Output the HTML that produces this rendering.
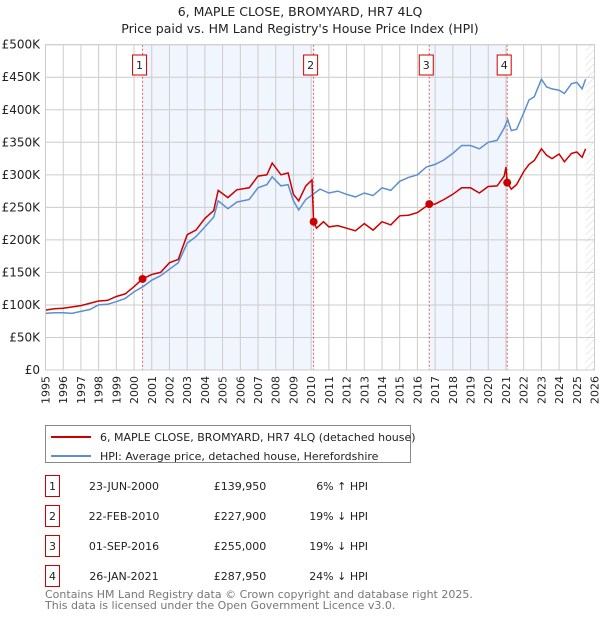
<!DOCTYPE html>
<html><head><meta charset="utf-8"><style>
body{margin:0;background:#fff;font-family:"Liberation Sans","DejaVu Sans",sans-serif;}
svg text{font-family:"DejaVu Sans","Liberation Sans",sans-serif;}
</style></head><body>
<svg id="c" width="600" height="620" xmlns="http://www.w3.org/2000/svg">
<defs>
<pattern id="hatch" width="5" height="5" patternUnits="userSpaceOnUse" patternTransform="rotate(45)">
<line x1="0" y1="0" x2="0" y2="5" stroke="#ccc" stroke-width="0.8"/></pattern>
</defs>
<text x="300" y="16" text-anchor="middle" font-size="12.5" fill="#222">6, MAPLE CLOSE, BROMYARD, HR7 4LQ</text>
<text x="300" y="33" text-anchor="middle" font-size="12.5" fill="#222">Price paid vs. HM Land Registry's House Price Index (HPI)</text>
<g id="plot"></g>
<g>
<rect x="45.5" y="425.5" width="365" height="37" fill="#fff" stroke="#888"/>
<line x1="51" y1="437" x2="91" y2="437" stroke="#cc0000" stroke-width="2"/>
<text x="100" y="441" font-size="11" fill="#222">6, MAPLE CLOSE, BROMYARD, HR7 4LQ (detached house)</text>
<line x1="51" y1="456" x2="91" y2="456" stroke="#5b8fd0" stroke-width="2"/>
<text x="100" y="460" font-size="11" fill="#222">HPI: Average price, detached house, Herefordshire</text>
</g>
<g id="table"></g>
<text x="45" y="598" font-size="11" fill="#777">Contains HM Land Registry data © Crown copyright and database right 2025.</text>
<text x="45" y="609" font-size="11" fill="#777">This data is licensed under the Open Government Licence v3.0.</text>
</svg>
<script>
const yTicks=[0,50000,100000,150000,200000,250000,300000,350000,400000,450000,500000];
const yTickLabels=["£0","£50K","£100K","£150K","£200K","£250K","£300K","£350K","£400K","£450K","£500K"];
const years=[1995,1996,1997,1998,1999,2000,2001,2002,2003,2004,2005,2006,2007,2008,2009,2010,2011,2012,2013,2014,2015,2016,2017,2018,2019,2020,2021,2022,2023,2024,2025,2026];
const hpiT=[1995,1995.5,1996,1996.5,1997,1997.5,1998,1998.5,1999,1999.5,2000,2000.5,2001,2001.5,2002,2002.5,2003,2003.5,2004,2004.5,2004.75,2005.3,2005.8,2006.5,2007,2007.5,2007.8,2008.3,2008.7,2009.0,2009.3,2009.7,2010.1,2010.5,2011,2011.5,2012,2012.5,2013,2013.5,2014,2014.5,2015,2015.5,2016,2016.5,2017,2017.5,2018,2018.5,2019,2019.5,2020,2020.5,2020.9,2021.1,2021.3,2021.6,2022,2022.3,2022.6,2023,2023.3,2023.6,2024,2024.3,2024.7,2025.0,2025.3,2025.5];
const hpiV=[87,88,88,87,90,93,100,101,105,110,120,128,138,145,155,165,195,205,220,235,260,248,258,262,280,285,297,283,285,260,246,262,270,278,272,275,270,266,272,268,280,276,290,296,300,312,316,323,333,345,345,340,350,353,372,385,368,370,395,415,420,447,435,432,430,425,440,442,432,447];
const propT=[1995,1995.5,1996,1997,1998,1998.5,1999,1999.5,2000,2000.48,2001,2001.5,2002,2002.5,2003,2003.5,2004,2004.5,2004.75,2005.3,2005.8,2006.5,2007,2007.5,2007.8,2008.3,2008.7,2009.0,2009.3,2009.7,2010.05,2010.14,2010.3,2010.7,2011,2011.5,2012,2012.5,2013,2013.5,2014,2014.5,2015,2015.5,2016,2016.67,2017,2017.5,2018,2018.5,2019,2019.5,2020,2020.5,2020.9,2021.0,2021.07,2021.3,2021.6,2022,2022.3,2022.6,2023,2023.3,2023.6,2024,2024.3,2024.7,2025.0,2025.3,2025.5];
const propV=[92,94,95,99,106,107,113,117,128,140,147,150,165,170,208,215,233,245,276,265,277,280,298,300,318,300,303,270,260,283,292,228,218,228,220,222,218,214,225,215,228,223,237,238,242,255,255,262,270,280,280,272,282,283,298,312,288,278,285,305,316,322,340,330,325,332,320,333,335,327,340];
const saleT=[2000.48,2010.14,2016.67,2021.07];
const saleV=[139950,227900,255000,287950];
const saleDates=["23-JUN-2000","22-FEB-2010","01-SEP-2016","26-JAN-2021"];
const salePrices=["£139,950","£227,900","£255,000","£287,950"];
const saleHpi=["6% ↑ HPI","19% ↓ HPI","19% ↓ HPI","24% ↓ HPI"];

const X0=45.5,X1=594.5,Y0=370,Y1=44.7;
const xs=t=>X0+(t-1995)/(2026-1995)*(X1-X0);
const ys=v=>Y0-v/500000*(Y0-Y1);
const NS="http://www.w3.org/2000/svg";
const plot=document.getElementById('plot');
function mk(tag,a,parent){const e=document.createElementNS(NS,tag);for(const k in a)e.setAttribute(k,a[k]);(parent||plot).appendChild(e);return e;}
for(const [a,b] of [[0,1],[2,3]]){
 const r=mk('rect',{x:xs(saleT[a]),y:Y1,width:xs(saleT[b])-xs(saleT[a]),height:Y0-Y1,fill:'#eef3fc',opacity:0.8});
 
 
}
const h=mk('rect',{x:xs(2025.5),y:Y1,width:X1-xs(2025.5),height:Y0-Y1,fill:'url(#hatch)'});


years.forEach(y=>{
 const l=mk('line',{x1:xs(y),x2:xs(y),y1:Y1,y2:Y0,stroke:'#ccc','stroke-width':1});
 
 
 const t=mk('text',{x:0,y:0,'font-size':11,fill:'#222','text-anchor':'end',transform:`translate(${xs(y)+4},${Y0+6}) rotate(-90)`});
 t.textContent=y;
 
 
});
yTicks.forEach((v,i)=>{
 const l=mk('line',{x1:X0,x2:X1,y1:ys(v),y2:ys(v),stroke:'#ccc','stroke-width':1});
 
 
 const t=mk('text',{x:40,y:ys(v)+4,'font-size':12,fill:'#222','text-anchor':'end'});
 t.textContent=yTickLabels[i];
 
 
});
saleT.forEach((t,i)=>{
 const l=mk('line',{x1:xs(t),x2:xs(t),y1:Y1,y2:Y0,stroke:'#e06060','stroke-width':1,'stroke-dasharray':'2,2'});
 
 
 const bx=xs(t)-3;
 const b=mk('rect',{x:bx-7,y:55,width:14,height:20,fill:'#fff',stroke:'#cc0000','stroke-width':1});
 
 
 const tx=mk('text',{x:bx,y:69,'font-size':11,'text-anchor':'middle',fill:'#222'});
 tx.textContent=i+1;
 
 
});
const ptsH=hpiT.map((t,i)=>xs(t).toFixed(1)+','+ys(hpiV[i]*1000).toFixed(1)).join(' ');
const pH=mk('polyline',{points:ptsH,fill:'none',stroke:'#5b8fd0','stroke-width':1.5});


const ptsP=propT.map((t,i)=>xs(t).toFixed(1)+','+ys(propV[i]*1000).toFixed(1)).join(' ');
const pP=mk('polyline',{points:ptsP,fill:'none',stroke:'#cc0000','stroke-width':1.5});


saleT.forEach((t,i)=>{
 const c=mk('circle',{cx:xs(t),cy:ys(saleV[i]),r:4,fill:'#cc0000'});
 
 
});
mk('rect',{x:X0,y:Y1,width:X1-X0,height:Y0-Y1,fill:'none',stroke:'#ccc'});
const tb=document.getElementById('table');
saleT.forEach((t,i)=>{
 const cy=486+i*30;
 const b=mk('rect',{x:45.5,y:cy-10.5,width:14,height:21,fill:'#fff',stroke:'#cc0000'},tb);
 
 
 const vals=[[String(i+1),52.5,'middle'],[saleDates[i],124,'middle'],[salePrices[i],240,'middle'],[saleHpi[i],368,'end']];
 vals.forEach(([s,x,anc])=>{
  const e=mk('text',{x:x,y:cy+4,'font-size':11,fill:'#222','text-anchor':anc},tb);
  e.textContent=s;
  
  
 });
});
</script>
</body></html>
